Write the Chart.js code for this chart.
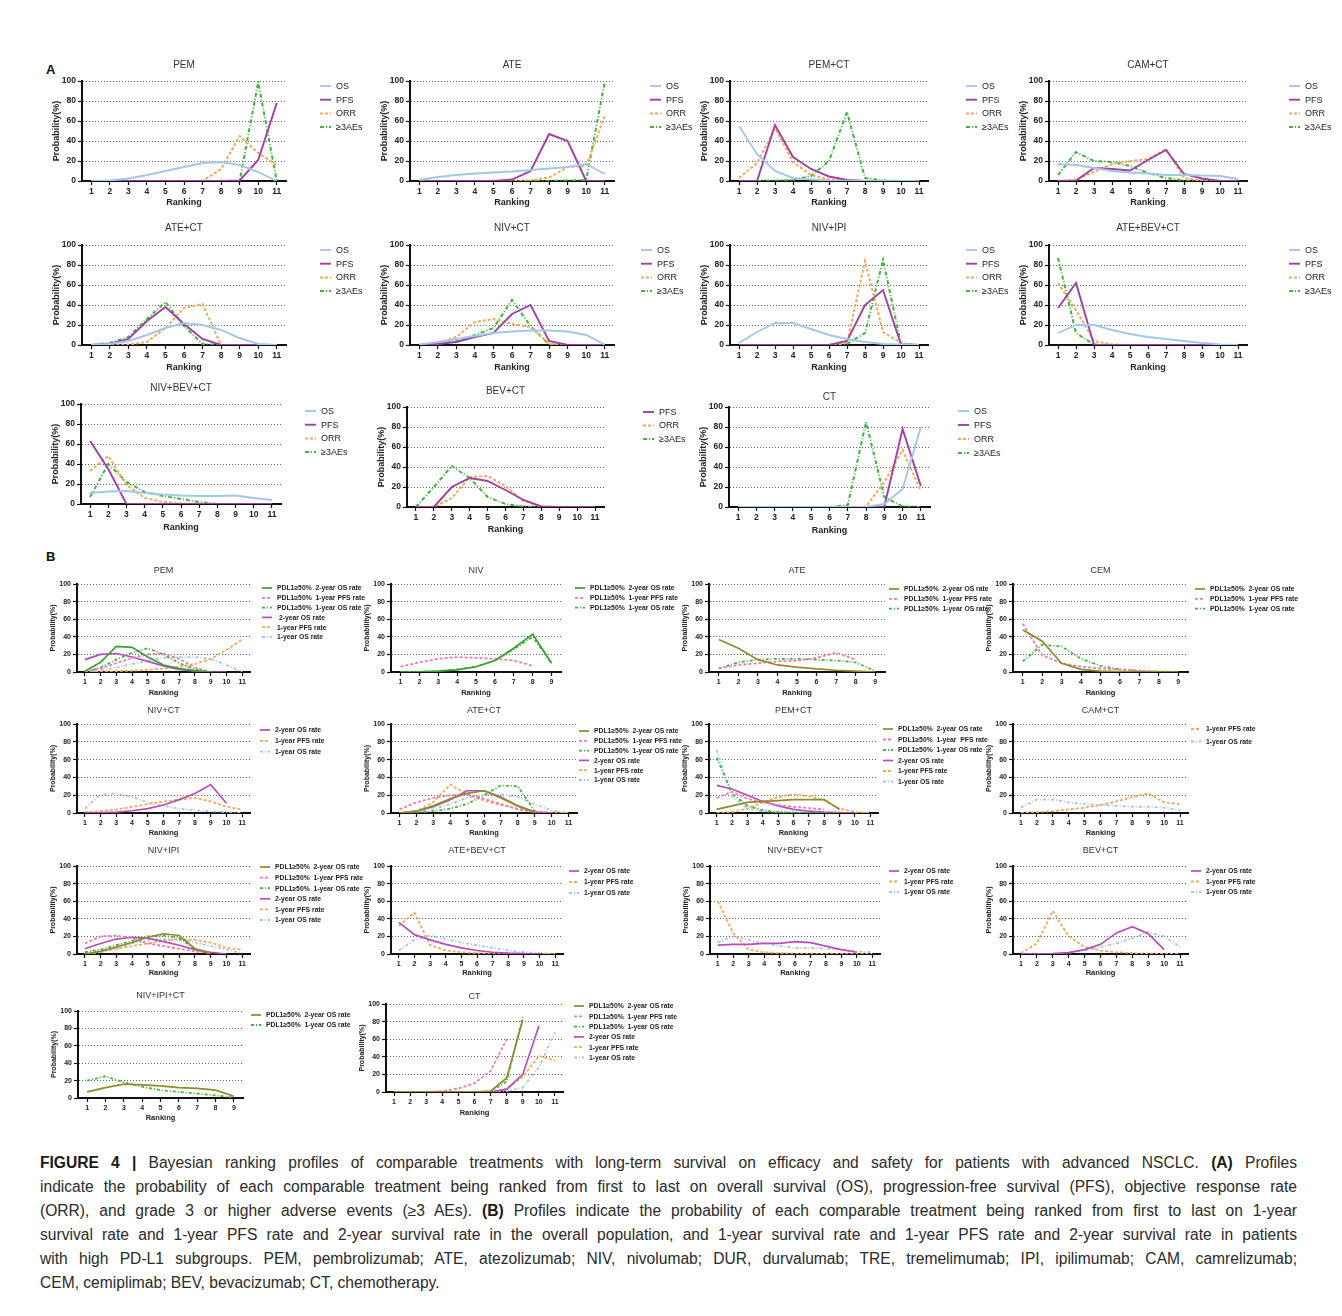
<!DOCTYPE html>
<html>
<head>
<meta charset="utf-8">
<script src="https://cdn.jsdelivr.net/npm/chart.js@4.4.0/dist/chart.umd.min.js"></script>
<style>
  body { margin: 0; background: #fff; }
  #page { position: relative; width: 1342px; height: 1316px; overflow: hidden; font-family: 'Liberation Sans', Arial, sans-serif; }
  #page canvas { position: absolute; }
  .plab { position: absolute; font-weight: bold; font-size: 13px; color: #111; }
  .cap { position: absolute; left: 40px; width: 1257px; font-size: 15.6px; line-height: 20px; color: #2a2a2a; white-space: nowrap; }
  .cap.j { text-align: justify; text-align-last: justify; white-space: normal; }
  .cap b { color: #1a1a1a; }
</style>
</head>
<body>
<div id="page">
  <div class="plab" style="left:46px;top:62px;">A</div>
  <div class="plab" style="left:46px;top:549px;">B</div>
  <div class="cap j" style="top:1153px;"><b>FIGURE 4 |</b> Bayesian ranking profiles of comparable treatments with long-term survival on efficacy and safety for patients with advanced NSCLC. <b>(A)</b> Profiles</div>
  <div class="cap j" style="top:1177px;">indicate the probability of each comparable treatment being ranked from first to last on overall survival (OS), progression-free survival (PFS), objective response rate</div>
  <div class="cap j" style="top:1201px;">(ORR), and grade 3 or higher adverse events (≥3 AEs). <b>(B)</b> Profiles indicate the probability of each comparable treatment being ranked from first to last on 1-year</div>
  <div class="cap j" style="top:1225px;">survival rate and 1-year PFS rate and 2-year survival rate in the overall population, and 1-year survival rate and 1-year PFS rate and 2-year survival rate in patients</div>
  <div class="cap j" style="top:1249px;">with high PD-L1 subgroups. PEM, pembrolizumab; ATE, atezolizumab; NIV, nivolumab; DUR, durvalumab; TRE, tremelimumab; IPI, ipilimumab; CAM, camrelizumab;</div>
  <div class="cap" style="top:1273px;">CEM, cemiplimab; BEV, bevacizumab; CT, chemotherapy.</div>
</div>
<script>
// ranking axis labels
const ranks11 = ['1', '2', '3', '4', '5', '6', '7', '8', '9', '10', '11'];
const ranks9 = ['1', '2', '3', '4', '5', '6', '7', '8', '9'];

// ---- panel A : OS / PFS / ORR / >=3AEs (probability %, rank 1..11)
const aPEM_OS  = [0, 0.5, 2.5, 6, 10, 14, 18, 19, 16, 9, 0];
const aPEM_PFS = [0, 0, 0, 0, 0, 0, 0, 0, 0.5, 21, 78];
const aPEM_ORR = [0, 0, 0, 0, 0, 0, 0, 12, 45, 28, 16];
const aPEM_AE  = [0, 0, 0, 0, 0, 0, 0, 0, 0, 99, 0];

const aATE_OS  = [1, 4, 6, 7.5, 8.5, 9.5, 11, 12.5, 14, 17, 7];
const aATE_PFS = [0, 0, 0, 0, 0, 1.5, 10, 47, 40, 0, 0];
const aATE_ORR = [0, 0, 0, 0, 0, 0, 0.5, 3.5, 14, 15, 65];
const aATE_AE  = [0, 0, 0, 0, 0, 0, 0, 0, 0.5, 1, 99];

const aPEMCT_OS  = [55, 27, 10, 3, 1.5, 0.5, 0, 0, 0, 0, 0];
const aPEMCT_PFS = [0, 0, 56, 24, 12, 4.5, 1, 0, 0, 0, 0];
const aPEMCT_ORR = [3, 18, 53, 19, 6, 1.5, 0.5, 0, 0, 0, 0];
const aPEMCT_AE  = [0, 0, 0.5, 1, 5, 20, 69, 3, 0.5, 0, 0];

const aCAMCT_OS  = [17, 16, 13, 10, 8.5, 7.5, 6, 6, 5.5, 5, 2];
const aCAMCT_PFS = [0, 0.5, 13, 12, 10.5, 21, 31, 7, 2.5, 0, 0];
const aCAMCT_ORR = [0, 1, 9, 17, 20, 22, 32, 3, 0.5, 0, 0];
const aCAMCT_AE  = [6, 29, 20, 19, 15, 8, 3, 0.5, 0, 0, 0];

const aATECT_OS  = [0, 1, 4, 10, 17, 22, 20, 15, 7, 1, 0];
const aATECT_PFS = [0, 1, 6, 24, 38, 21, 6, 0, 0, 0, 0];
const aATECT_ORR = [0, 0, 0.5, 3, 17, 37, 41, 0, 0, 0, 0];
const aATECT_AE  = [0, 2, 8, 26, 43, 19, 1, 0, 0, 0, 0];

const aNIVCT_OS  = [0.5, 3, 6, 9, 12, 13.5, 14.5, 14.5, 13.5, 10, 0.5];
const aNIVCT_PFS = [0, 1, 3, 8, 12, 31, 40, 4, 0, 0, 0];
const aNIVCT_ORR = [0, 2, 8, 23, 26, 21, 18, 1, 0, 0, 0];
const aNIVCT_AE  = [0, 1, 4, 10, 17, 45, 19, 0.5, 0, 0, 0];

const aNIVIPI_OS  = [2, 13, 22, 22, 16, 10, 6, 3, 1, 0.5, 0];
const aNIVIPI_PFS = [0, 0, 0, 0, 0, 0, 4, 40, 55, 0.5, 0];
const aNIVIPI_ORR = [0, 0, 0, 0, 0, 0, 2, 84, 13, 2, 0];
const aNIVIPI_AE  = [0, 0, 0, 0, 0, 0, 1, 12, 85, 1, 0];

const aATEBEVCT_OS  = [12, 20, 20, 15, 11, 8, 6, 4, 2, 0.5, 0];
const aATEBEVCT_PFS = [37, 62, 0, 0, 0, 0, 0, 0, 0, 0, 0];
const aATEBEVCT_ORR = [62, 35, 4, 0.5, 0, 0, 0, 0, 0, 0, 0];
const aATEBEVCT_AE  = [87, 12, 0.5, 0, 0, 0, 0, 0, 0, 0, 0];

const aNIVBEVCT_OS  = [11, 12.5, 13, 11, 9.5, 8.5, 8, 8, 8.5, 6, 4];
const aNIVBEVCT_PFS = [63, 35, 0, 0, 0, 0, 0, 0, 0, 0, 0];
const aNIVBEVCT_ORR = [33, 48, 19, 6, 2, 0.5, 0, 0, 0, 0, 0];
const aNIVBEVCT_AE  = [7, 40, 22, 12, 8, 5, 2, 0, 0, 0, 0];

const aBEVCT_PFS = [0, 0, 20, 29, 26, 17, 7, 0.5, 0, 0, 0];
const aBEVCT_ORR = [0, 0, 9, 30, 31, 21, 6, 0.5, 0, 0, 0];
const aBEVCT_AE  = [0, 20, 41, 29, 10, 3, 0.5, 0, 0, 0, 0];

const aCT_OS  = [0, 0, 0, 0, 0, 0, 0, 0, 3, 18, 80];
const aCT_PFS = [0, 0, 0, 0, 0, 0, 0, 0, 0.5, 78, 21];
const aCT_ORR = [0, 0, 0, 0, 0, 0, 0, 0.5, 25, 57, 16];
const aCT_AE  = [0, 0, 0, 0, 0, 0, 2, 85, 10, 0.5, 0];

// ---- panel B : survival-rate rankings
const bPEM_p2OS  = [1, 11, 29, 28, 17, 8, 4, 1.5, 0];
const bPEM_p1PFS = [1, 4, 10, 16, 20, 21, 15, 5, 0];
const bPEM_p1OS  = [0, 5, 14, 22, 27, 20, 10, 3, 0];
const bPEM_OS2   = [14, 20, 21, 17, 12, 7, 3, 1, 0, 0];
const bPEM_PFS1  = [0, 0.5, 1, 1.5, 2.5, 4, 6, 9, 15, 25, 37];
const bPEM_OS1   = [0, 2, 5, 9, 13, 16, 17, 17, 15, 8, 0];

const bNIV_p2OS  = [0, 0.2, 1, 2.5, 6, 13, 27, 43, 10];
const bNIV_p1PFS = [6, 11, 15, 17, 16, 15, 13, 7];
const bNIV_p1OS  = [0, 0.2, 1, 3, 6, 13, 26, 40, 10];

const bATE_p2OS  = [37, 27, 14, 8, 5.5, 3.5, 2, 1, 0];
const bATE_p1PFS = [4, 8, 10, 12, 13, 16, 22, 14];
const bATE_p1OS  = [4, 11, 14, 15, 15, 14, 13, 11, 1];

const bCEM_p2OS  = [48, 35, 10, 3, 1, 0.5, 0, 0, 0];
const bCEM_p1PFS = [55, 19, 10, 6, 4, 3, 1.5, 0.5];
const bCEM_p1OS  = [12, 31, 29, 15, 7, 3, 1, 0.5, 0];

const bNIVCT_OS2  = [0, 0.5, 1, 2.5, 5, 9, 15, 22, 32, 11];
const bNIVCT_PFS1 = [1, 2, 4, 7, 10, 13, 15, 17, 13, 7, 4];
const bNIVCT_OS1  = [5, 21, 22, 18, 12, 8, 5, 3, 2, 1, 0];

const bATECT_p2OS  = [0, 2, 8, 16, 22, 25, 17, 8, 1];
const bATECT_p1PFS = [4, 12, 17, 20, 21, 16, 10, 4, 1];
const bATECT_p1OS  = [0, 0.5, 2, 5, 10, 20, 31, 30, 2];
const bATECT_OS2   = [0, 2, 7, 15, 25, 25, 18, 8, 1, 0];
const bATECT_PFS1  = [0, 2, 12, 32, 21, 14, 9, 5, 2, 0.5, 0];
const bATECT_OS1   = [0, 1, 4, 10, 17, 20, 21, 18, 10, 3, 0];

const bPEMCT_p2OS  = [4, 8, 12, 13, 14, 15, 15, 15, 4];
const bPEMCT_p1PFS = [17, 24, 16, 12, 9, 7, 5.5, 4];
const bPEMCT_p1OS  = [62, 22, 8, 3, 1, 0.5, 0, 0, 0];
const bPEMCT_OS2   = [31, 27, 20, 13, 8, 4, 2, 1, 0.5, 0];
const bPEMCT_PFS1  = [0, 1, 5, 12, 18, 21, 19, 14, 5, 1, 0];
const bPEMCT_OS1   = [71, 19, 5, 2, 1, 0.5, 0, 0, 0, 0, 0];

const bCAMCT_PFS1 = [0, 1, 2, 4, 6, 9, 13, 18, 22, 12, 10];
const bCAMCT_OS1  = [6, 15, 15, 12, 10, 9, 8, 7, 7, 6, 3];

const bNIVIPI_p2OS  = [0, 3, 8, 13, 19, 23, 21, 6, 0];
const bNIVIPI_p1PFS = [12, 20, 21, 18, 12, 9, 6, 3, 1];
const bNIVIPI_p1OS  = [2, 5, 10, 15, 20, 21, 18, 6, 1];
const bNIVIPI_OS2   = [6, 12, 17, 19, 18, 14, 10, 5, 2, 0];
const bNIVIPI_PFS1  = [0, 3, 6, 9, 12, 15, 17, 16, 13, 7, 5];
const bNIVIPI_OS1   = [0, 2, 6, 12, 16, 17, 16, 13, 9, 5, 1];

const bATEBEVCT_OS2  = [36, 22, 16, 11, 7, 4, 2, 1, 0.5, 0];
const bATEBEVCT_PFS1 = [32, 47, 10, 4, 2, 1, 0.5, 0, 0, 0, 0];
const bATEBEVCT_OS1  = [4, 16, 21, 17, 13, 10, 7, 4, 2, 1, 0];

const bNIVBEVCT_OS2  = [10, 11, 11, 12, 12, 14, 13, 9, 5, 2];
const bNIVBEVCT_PFS1 = [60, 24, 5, 2, 1, 0.5, 0.5, 0, 0, 0, 0];
const bNIVBEVCT_OS1  = [13, 20, 16, 12, 9, 7, 7, 6, 5, 3, 2];

const bBEVCT_OS2  = [0, 0, 0.5, 1.5, 5, 11, 24, 31, 23, 5];
const bBEVCT_PFS1 = [1, 12, 49, 20, 8, 4, 2, 1, 0.5, 0, 0];
const bBEVCT_OS1  = [0, 0, 0.5, 1.5, 4, 8, 12, 18, 25, 20, 8];

const bNIVIPICT_p2OS = [7, 12, 16, 15, 14, 12, 11, 9, 2];
const bNIVIPICT_p1OS = [20, 25, 18, 13, 9, 7, 5, 3, 0.5];

const bCT_p2OS  = [0, 0, 0, 0, 0, 0, 1, 16, 82];
const bCT_p1PFS = [0, 0, 0, 1, 4, 10, 24, 60];
const bCT_p1OS  = [0, 0, 0, 0, 0, 0, 0.5, 12, 86];
const bCT_OS2   = [0, 0, 0, 0, 0, 0, 0, 3, 20, 75];
const bCT_PFS1  = [0, 0, 0, 0, 0, 0, 0, 4, 17, 41, 36];
const bCT_OS1   = [0, 0, 0, 0, 0, 0, 0, 1, 5, 28, 68];

// legend texts
const L_P2OS = 'PDL1≥50%  2-year OS rate';
const L_P1PFS = 'PDL1≥50%  1-year PFS rate';
const L_P1OS = 'PDL1≥50%  1-year OS rate';

// line looks
const LOOK = {
  OS:    { color: '#a3c7ea', dash: [], w: 1.9 },
  PFS:   { color: '#a13fa5', dash: [], w: 1.9 },
  ORR:   { color: '#f6a85a', dash: [3, 2], w: 2 },
  AE:    { color: '#3bb83b', dash: [4, 2, 1, 2], w: 2 },
  p2OSg: { color: '#35a035', dash: [], w: 1.7 },
  p2OS:  { color: '#8f8a2c', dash: [], w: 1.7 },
  p1PFS: { color: '#f27ab3', dash: [3, 2], w: 1.8 },
  p1OS:  { color: '#3bb83b', dash: [3, 2, 1, 2], w: 1.8 },
  OS2:   { color: '#b64dbd', dash: [], w: 1.7 },
  PFS1:  { color: '#f6a85a', dash: [3, 2], w: 1.8 },
  OS1:   { color: '#a3c7ea', dash: [3, 2, 1, 2], w: 1.8 }
};

// text sizes for the two panels
const SET = {
  A: { title: 10, ytitle: 9, tick: 8.5, rank: 9, leg: 9, legBold: false, yoff: 26, legLen: 11, legGap: 5, legW: 62 },
  B: { title: 9, ytitle: 7, tick: 7, rank: 7.5, leg: 6.8, legBold: true, yoff: 24, legLen: 10, legGap: 5, legW: 110 }
};

const FAM = "'Liberation Sans', Arial, sans-serif";

const charts = [
  // panel A, row 1
  { set: 'A', t: 'PEM', labels: ranks11, ax: 82, ge: 286, top: 81, bot: 181, ty: 65, rk: 203, lx: 320, ly: 86, dy: 13.7,
    s: [['OS', aPEM_OS, 'OS'], ['PFS', aPEM_PFS, 'PFS'], ['ORR', aPEM_ORR, 'ORR'], ['≥3AEs', aPEM_AE, 'AE']] },
  { set: 'A', t: 'ATE', labels: ranks11, ax: 410, ge: 614, top: 81, bot: 181, ty: 65, rk: 203, lx: 650, ly: 86, dy: 13.7,
    s: [['OS', aATE_OS, 'OS'], ['PFS', aATE_PFS, 'PFS'], ['ORR', aATE_ORR, 'ORR'], ['≥3AEs', aATE_AE, 'AE']] },
  { set: 'A', t: 'PEM+CT', labels: ranks11, ax: 730, ge: 928, top: 81, bot: 181, ty: 65, rk: 203, lx: 966, ly: 86, dy: 13.7,
    s: [['OS', aPEMCT_OS, 'OS'], ['PFS', aPEMCT_PFS, 'PFS'], ['ORR', aPEMCT_ORR, 'ORR'], ['≥3AEs', aPEMCT_AE, 'AE']] },
  { set: 'A', t: 'CAM+CT', labels: ranks11, ax: 1049, ge: 1247, top: 81, bot: 181, ty: 65, rk: 203, lx: 1289, ly: 86, dy: 13.7,
    s: [['OS', aCAMCT_OS, 'OS'], ['PFS', aCAMCT_PFS, 'PFS'], ['ORR', aCAMCT_ORR, 'ORR'], ['≥3AEs', aCAMCT_AE, 'AE']] },
  // panel A, row 2
  { set: 'A', t: 'ATE+CT', labels: ranks11, ax: 82, ge: 286, top: 245, bot: 345, ty: 228, rk: 368, lx: 320, ly: 250, dy: 13.7,
    s: [['OS', aATECT_OS, 'OS'], ['PFS', aATECT_PFS, 'PFS'], ['ORR', aATECT_ORR, 'ORR'], ['≥3AEs', aATECT_AE, 'AE']] },
  { set: 'A', t: 'NIV+CT', labels: ranks11, ax: 410, ge: 614, top: 245, bot: 345, ty: 228, rk: 368, lx: 641, ly: 250, dy: 13.7,
    s: [['OS', aNIVCT_OS, 'OS'], ['PFS', aNIVCT_PFS, 'PFS'], ['ORR', aNIVCT_ORR, 'ORR'], ['≥3AEs', aNIVCT_AE, 'AE']] },
  { set: 'A', t: 'NIV+IPI', labels: ranks11, ax: 730, ge: 928, top: 245, bot: 345, ty: 228, rk: 368, lx: 966, ly: 250, dy: 13.7,
    s: [['OS', aNIVIPI_OS, 'OS'], ['PFS', aNIVIPI_PFS, 'PFS'], ['ORR', aNIVIPI_ORR, 'ORR'], ['≥3AEs', aNIVIPI_AE, 'AE']] },
  { set: 'A', t: 'ATE+BEV+CT', labels: ranks11, ax: 1049, ge: 1247, top: 245, bot: 345, ty: 228, rk: 368, lx: 1289, ly: 250, dy: 13.7,
    s: [['OS', aATEBEVCT_OS, 'OS'], ['PFS', aATEBEVCT_PFS, 'PFS'], ['ORR', aATEBEVCT_ORR, 'ORR'], ['≥3AEs', aATEBEVCT_AE, 'AE']] },
  // panel A, row 3
  { set: 'A', t: 'NIV+BEV+CT', labels: ranks11, ax: 81, ge: 281, top: 404, bot: 504, ty: 388, rk: 528, lx: 305, ly: 411, dy: 13.7,
    s: [['OS', aNIVBEVCT_OS, 'OS'], ['PFS', aNIVBEVCT_PFS, 'PFS'], ['ORR', aNIVBEVCT_ORR, 'ORR'], ['≥3AEs', aNIVBEVCT_AE, 'AE']] },
  { set: 'A', t: 'BEV+CT', labels: ranks11, ax: 407, ge: 604, top: 407, bot: 507, ty: 391, rk: 530, lx: 643, ly: 412, dy: 13.5,
    s: [['PFS', aBEVCT_PFS, 'PFS'], ['ORR', aBEVCT_ORR, 'ORR'], ['≥3AEs', aBEVCT_AE, 'AE']] },
  { set: 'A', t: 'CT', labels: ranks11, ax: 729, ge: 930, top: 407, bot: 507, ty: 397, rk: 531, lx: 958, ly: 411, dy: 14,
    s: [['OS', aCT_OS, 'OS'], ['PFS', aCT_PFS, 'PFS'], ['ORR', aCT_ORR, 'ORR'], ['≥3AEs', aCT_AE, 'AE']] },

  // panel B, row 1
  { set: 'B', t: 'PEM', labels: ranks11, ax: 77, ge: 250, top: 584, bot: 672, ty: 570, rk: 692, lx: 262, ly: 588, dy: 9.8,
    s: [[L_P2OS, bPEM_p2OS, 'p2OSg'], [L_P1PFS, bPEM_p1PFS, 'p1PFS'], [L_P1OS, bPEM_p1OS, 'p1OS'],
        [' 2-year OS rate', bPEM_OS2, 'OS2'], ['1-year PFS rate', bPEM_PFS1, 'PFS1'], ['1-year OS rate', bPEM_OS1, 'OS1']] },
  { set: 'B', t: 'NIV', labels: ranks9, ax: 391, ge: 561, top: 584, bot: 672, ty: 570, rk: 692, lx: 575, ly: 588, dy: 9.8,
    s: [[L_P2OS, bNIV_p2OS, 'p2OSg'], [L_P1PFS, bNIV_p1PFS, 'p1PFS'], [L_P1OS, bNIV_p1OS, 'p1OS']] },
  { set: 'B', t: 'ATE', labels: ranks9, ax: 709, ge: 885, top: 584, bot: 672, ty: 570, rk: 692, lx: 889, ly: 589, dy: 9.8,
    s: [[L_P2OS, bATE_p2OS, 'p2OS'], [L_P1PFS, bATE_p1PFS, 'p1PFS'], [L_P1OS, bATE_p1OS, 'p1OS']] },
  { set: 'B', t: 'CEM', labels: ranks9, ax: 1013, ge: 1188, top: 584, bot: 672, ty: 570, rk: 692, lx: 1195, ly: 589, dy: 9.8,
    s: [[L_P2OS, bCEM_p2OS, 'p2OS'], [L_P1PFS, bCEM_p1PFS, 'p1PFS'], [L_P1OS, bCEM_p1OS, 'p1OS']] },
  // panel B, row 2
  { set: 'B', t: 'NIV+CT', labels: ranks11, ax: 77, ge: 250, top: 724, bot: 813, ty: 710, rk: 832, lx: 260, ly: 730, dy: 10.8,
    s: [['2-year OS rate', bNIVCT_OS2, 'OS2'], ['1-year PFS rate', bNIVCT_PFS1, 'PFS1'], ['1-year OS rate', bNIVCT_OS1, 'OS1']] },
  { set: 'B', t: 'ATE+CT', labels: ranks11, ax: 391, ge: 577, top: 724, bot: 813, ty: 710, rk: 832, lx: 579, ly: 731, dy: 9.8,
    s: [[L_P2OS, bATECT_p2OS, 'p2OS'], [L_P1PFS, bATECT_p1PFS, 'p1PFS'], [L_P1OS, bATECT_p1OS, 'p1OS'],
        ['2-year OS rate', bATECT_OS2, 'OS2'], ['1-year PFS rate', bATECT_PFS1, 'PFS1'], ['1-year OS rate', bATECT_OS1, 'OS1']] },
  { set: 'B', t: 'PEM+CT', labels: ranks11, ax: 709, ge: 878, top: 724, bot: 813, ty: 710, rk: 832, lx: 883, ly: 729, dy: 10.5,
    s: [[L_P2OS, bPEMCT_p2OS, 'p2OS'], ['PDL1≥50%  1-year  PFS rate', bPEMCT_p1PFS, 'p1PFS'], [L_P1OS, bPEMCT_p1OS, 'p1OS'],
        ['2-year OS rate', bPEMCT_OS2, 'OS2'], ['1-year PFS rate', bPEMCT_PFS1, 'PFS1'], ['1-year OS rate', bPEMCT_OS1, 'OS1']] },
  { set: 'B', t: 'CAM+CT', labels: ranks11, ax: 1013, ge: 1188, top: 724, bot: 813, ty: 710, rk: 832, lx: 1191, ly: 729, dy: 12.5,
    s: [['1-year PFS rate', bCAMCT_PFS1, 'PFS1'], ['1-year OS rate', bCAMCT_OS1, 'OS1']] },
  // panel B, row 3
  { set: 'B', t: 'NIV+IPI', labels: ranks11, ax: 77, ge: 250, top: 866, bot: 954, ty: 850, rk: 972, lx: 260, ly: 867, dy: 10.6,
    s: [[L_P2OS, bNIVIPI_p2OS, 'p2OS'], [L_P1PFS, bNIVIPI_p1PFS, 'p1PFS'], [L_P1OS, bNIVIPI_p1OS, 'p1OS'],
        ['2-year OS rate', bNIVIPI_OS2, 'OS2'], ['1-year PFS rate', bNIVIPI_PFS1, 'PFS1'], ['1-year OS rate', bNIVIPI_OS1, 'OS1']] },
  { set: 'B', t: 'ATE+BEV+CT', labels: ranks11, ax: 391, ge: 563, top: 866, bot: 954, ty: 850, rk: 972, lx: 569, ly: 871, dy: 11,
    s: [['2-year OS rate', bATEBEVCT_OS2, 'OS2'], ['1-year PFS rate', bATEBEVCT_PFS1, 'PFS1'], ['1-year OS rate', bATEBEVCT_OS1, 'OS1']] },
  { set: 'B', t: 'NIV+BEV+CT', labels: ranks11, ax: 710, ge: 880, top: 866, bot: 954, ty: 850, rk: 972, lx: 889, ly: 871, dy: 10.5,
    s: [['2-year OS rate', bNIVBEVCT_OS2, 'OS2'], ['1-year PFS rate', bNIVBEVCT_PFS1, 'PFS1'], ['1-year OS rate', bNIVBEVCT_OS1, 'OS1']] },
  { set: 'B', t: 'BEV+CT', labels: ranks11, ax: 1013, ge: 1188, top: 866, bot: 954, ty: 850, rk: 972, lx: 1191, ly: 871, dy: 10.5,
    s: [['2-year OS rate', bBEVCT_OS2, 'OS2'], ['1-year PFS rate', bBEVCT_PFS1, 'PFS1'], ['1-year OS rate', bBEVCT_OS1, 'OS1']] },
  // panel B, row 4
  { set: 'B', t: 'NIV+IPI+CT', labels: ranks9, ax: 78, ge: 243, top: 1011, bot: 1098, ty: 995, rk: 1117, lx: 251, ly: 1015, dy: 10,
    s: [[L_P2OS, bNIVIPICT_p2OS, 'p2OS'], [L_P1OS, bNIVIPICT_p1OS, 'p1OS']] },
  { set: 'B', t: 'CT', labels: ranks11, ax: 386, ge: 563, top: 1004, bot: 1092, ty: 996, rk: 1112, lx: 574, ly: 1006, dy: 10.3,
    s: [[L_P2OS, bCT_p2OS, 'p2OS'], [L_P1PFS, bCT_p1PFS, 'p1PFS'], [L_P1OS, bCT_p1OS, 'p1OS'],
        ['2-year OS rate', bCT_OS2, 'OS2'], ['1-year PFS rate', bCT_PFS1, 'PFS1'], ['1-year OS rate', bCT_OS1, 'OS1']] }
];

// legend drawn to the right of the plot, one short line sample per series
const sideLegend = {
  id: 'sideLegend',
  afterDraw(chart, args, o) {
    const ctx = chart.ctx;
    ctx.save();
    ctx.font = (o.bold ? 'bold ' : '') + o.size + 'px ' + FAM;
    ctx.textBaseline = 'middle';
    ctx.textAlign = 'left';
    chart.data.datasets.forEach((ds, i) => {
      const y = o.y + i * o.dy;
      ctx.strokeStyle = ds.borderColor;
      ctx.lineWidth = ds.borderWidth;
      ctx.setLineDash(ds.borderDash);
      ctx.beginPath();
      ctx.moveTo(o.x, y);
      ctx.lineTo(o.x + o.len, y);
      ctx.stroke();
      ctx.setLineDash([]);
      ctx.fillStyle = '#222';
      ctx.fillText(ds.label, o.x + o.len + o.gap, y + 0.5);
    });
    ctx.restore();
  }
};

const page = document.getElementById('page');

charts.forEach(c => {
  const st = SET[c.set];
  const titleLH = st.title * 1.2;
  const left = Math.round(c.ax - st.yoff - st.ytitle * 0.6);
  const top = Math.round(c.ty - titleLH / 2);
  const right = c.lx + st.legW;
  const bottom = Math.round(c.rk + st.rank * 0.6);
  const cv = document.createElement('canvas');
  cv.width = right - left;
  cv.height = bottom - top;
  cv.style.left = left + 'px';
  cv.style.top = top + 'px';
  page.appendChild(cv);

  new Chart(cv, {
    type: 'line',
    data: {
      labels: c.labels,
      datasets: c.s.map(([label, data, look]) => ({
        label: label,
        data: data,
        borderColor: LOOK[look].color,
        borderDash: LOOK[look].dash,
        borderWidth: LOOK[look].w,
        pointRadius: 0,
        tension: 0,
        fill: false
      }))
    },
    options: {
      responsive: false,
      animation: false,
      devicePixelRatio: 1,
      layout: { padding: { left: 0, top: 0, bottom: 0, right: right - c.ge } },
      plugins: {
        legend: { display: false },
        tooltip: { enabled: false },
        title: {
          display: true, text: c.t, fullSize: false, color: '#333',
          font: { family: FAM, size: st.title, weight: 'normal', lineHeight: 1.2 },
          padding: { top: 0, bottom: c.top - top - titleLH }
        },
        sideLegend: { x: c.lx - left, y: c.ly - top, dy: c.dy, len: st.legLen, gap: st.legGap, size: st.leg, bold: st.legBold }
      },
      scales: {
        x: {
          type: 'category',
          offset: true,
          grid: { drawOnChartArea: false, drawTicks: true, tickLength: 4, tickColor: '#111', tickWidth: 1.2 },
          border: { display: true, color: '#111', width: 2 },
          ticks: { color: '#222', padding: 2, maxRotation: 0, autoSkip: false, font: { family: FAM, size: st.tick, weight: 'bold' } },
          title: { display: true, text: 'Ranking', color: '#222', padding: 0, font: { family: FAM, size: st.rank, weight: 'bold', lineHeight: 1.2 } },
          afterFit: s => { s.height = bottom - c.bot; }
        },
        y: {
          min: 0, max: 100,
          grid: {
            color: g => g.tick.value === 0 ? 'rgba(0,0,0,0)' : '#666',
            lineWidth: 1, drawTicks: true, tickLength: 4, tickColor: '#111', tickWidth: 1.2
          },
          border: { display: true, color: '#111', width: 2, dash: [1, 2] },
          ticks: { stepSize: 20, color: '#222', padding: 2, font: { family: FAM, size: st.tick, weight: 'bold' } },
          title: { display: true, text: 'Probability(%)', color: '#222', padding: 0, font: { family: FAM, size: st.ytitle, weight: 'bold', lineHeight: 1.2 } },
          afterFit: s => { s.width = c.ax - left; }
        }
      }
    },
    plugins: [sideLegend]
  });
});
</script>
</body>
</html>
